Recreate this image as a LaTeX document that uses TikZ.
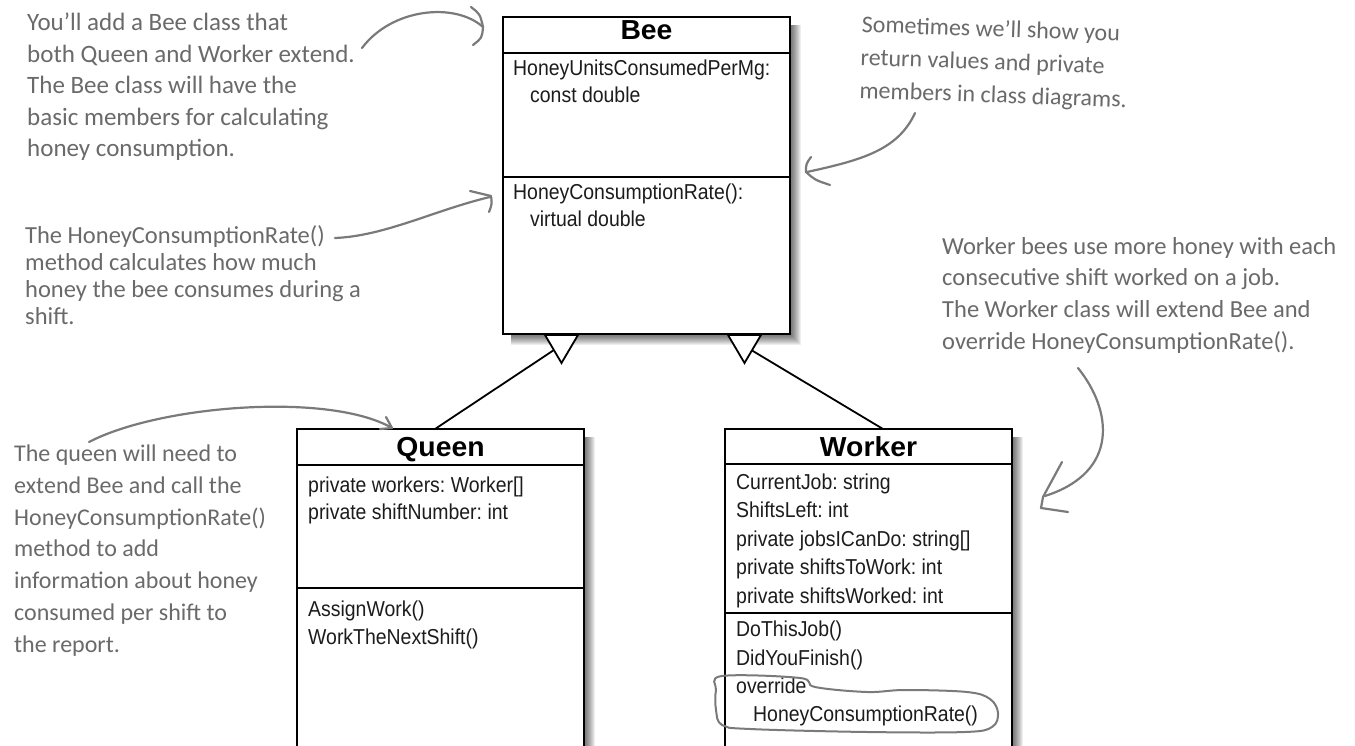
\documentclass[tikz,border=0pt]{standalone}
\usepackage{fontspec}
\newfontfamily\umlfont[FakeStretch=0.9]{Liberation Sans}
\newfontfamily\umltitlefont[FakeStretch=1.03]{Liberation Sans}
\newfontfamily\handfont{Carlito}
\definecolor{handgray}{HTML}{6A6A6A}
\definecolor{arrowgray}{HTML}{7A7A7A}
\definecolor{umltext}{HTML}{1C1C1C}
\frenchspacing
\begin{document}
\begin{tikzpicture}[x=1pt,y=-1pt,
  classbox/.style={draw=black, line width=1.4pt, fill=white, inner sep=0pt, outer sep=0pt},
  sepline/.style={draw=black, line width=1.4pt},
  member/.style={anchor=base west, inner sep=0pt, font=\umlfont\fontsize{21.6}{25}\selectfont, text=umltext},
  ctitle/.style={anchor=base, inner sep=0pt, font=\umltitlefont\bfseries\fontsize{27.5}{31}\selectfont, text=black},
  inherit/.style={draw=black, line width=1.8pt},
  hollowtri/.style={draw=black, line width=1.8pt, fill=white, line join=miter},
  note/.style={anchor=north west, inner sep=0pt, align=left, text=handgray},
  handline/.style={draw=arrowgray, line width=2.2pt, line cap=round, line join=round},
]
\useasboundingbox (0,0) rectangle (1355,746);
\clip (0,0) rectangle (1355,746);
\fill[white] (0,0) rectangle (1355,746);

% soft shadows
\foreach \k in {1,...,11} {
  \fill[black, opacity=0.065] (511,25) rectangle (790+\k,334+\k);
  \fill[black, opacity=0.065] (305,437) rectangle (584+\k,800);
  \fill[black, opacity=0.065] (733,437) rectangle (1012+\k,800);
}

% class boxes
\node[classbox, minimum width=287pt, minimum height=317pt] (bee) at (646.5,175.5) {};
\node[classbox, minimum width=287pt, minimum height=361pt] (queen) at (440.5,609.5) {};
\node[classbox, minimum width=287pt, minimum height=361pt] (worker) at (868.5,609.5) {};

\draw[sepline] (bee.west |- 0,53) -- (bee.east |- 0,53);
\draw[sepline] (bee.west |- 0,177) -- (bee.east |- 0,177);
\draw[sepline] (queen.west |- 0,465) -- (queen.east |- 0,465);
\draw[sepline] (queen.west |- 0,588) -- (queen.east |- 0,588);
\draw[sepline] (worker.west |- 0,464) -- (worker.east |- 0,464);
\draw[sepline] (worker.west |- 0,613) -- (worker.east |- 0,613);

% titles
\node[ctitle] (beeT) at (646.5,40) {Bee};
\node[ctitle] (queenT) at (440.5,456) {Queen};
\node[ctitle] (workerT) at (868.5,456) {Worker};

% Bee members
\node[member] (b1) at (513,76) {HoneyUnitsConsumedPerMg:};
\node[member] (b2) at (530,102.7) {const double};
\node[member] (b3) at (513,199.3) {HoneyConsumptionRate():};
\node[member] (b4) at (530,226.7) {virtual double};

% Queen members
\node[member] (q1) at (308,492.7) {private workers: Worker[]};
\node[member] (q2) at (308,519.5) {private shiftNumber: int};
\node[member] (q3) at (308,616.7) {AssignWork()};
\node[member] (q4) at (308,644) {WorkTheNextShift()};

% Worker members
\node[member] (w1) at (736,489) {CurrentJob: string};
\node[member] (w2) at (736,517.5) {ShiftsLeft: int};
\node[member] (w3) at (736,546) {private jobsICanDo: string[]};
\node[member] (w4) at (736,574.5) {private shiftsToWork: int};
\node[member] (w5) at (736,603) {private shiftsWorked: int};
\node[member] (w6) at (736,636.7) {DoThisJob()};
\node[member] (w7) at (736,665) {DidYouFinish()};
\node[member] (w8) at (736,693) {override};
\node[member] (w9) at (753,721.7) {HoneyConsumptionRate()};

% inheritance connectors
\coordinate (qtop) at (435,429);
\coordinate (wtop) at (883,429);
\coordinate (triQ) at (561.5,345);
\coordinate (triW) at (744.5,346);
\draw[inherit] (qtop) -- (triQ);
\draw[inherit] (wtop) -- (triW);
\draw[hollowtri] (545,335) -- (578,335) -- (561.5,363) -- cycle;
\draw[hollowtri] (728,335) -- (761,335) -- (744.5,363) -- cycle;

% handwritten notes
\node[note, font=\handfont\fontsize{25}{31.5}\selectfont] (n1) at (27,13)
  {You’ll add a Bee class that\\both Queen and Worker extend.\\The Bee class will have the\\basic members for calculating\\honey consumption.};
\node[note, font=\handfont\fontsize{24.5}{27}\selectfont] (n2) at (25,225)
  {The HoneyConsumptionRate()\\method calculates how much\\honey the bee consumes during a\\shift.};
\node[note, font=\handfont\fontsize{24}{33}\selectfont, rotate=-2] (n3) at (862,15)
  {Sometimes we’ll show you\\return values and private\\members in class diagrams.};
\node[note, font=\handfont\fontsize{24.5}{31.7}\selectfont] (n4) at (942,237)
  {Worker bees use more honey with each\\consecutive shift worked on a job.\\The Worker class will extend Bee and\\override HoneyConsumptionRate().};
\node[note, font=\handfont\fontsize{24}{31.7}\selectfont] (n5) at (14,445)
  {The queen will need to\\extend Bee and call the\\HoneyConsumptionRate()\\method to add\\information about honey\\consumed per shift to\\the report.};

% handwritten arrows
\coordinate (n1e) at (362,48);
\draw[handline] (n1e) .. controls (392,8) and (455,2) .. (483,27);
\draw[handline] (471,7) .. controls (480,14) .. (483,27) .. controls (482,38) .. (473,45);

\coordinate (n2e) at (335,238);
\draw[handline] (n2e) .. controls (385,236) and (435,210) .. (490,197);
\draw[handline] (470,191) -- (491,196) .. controls (492,204) .. (489,212);

\coordinate (n3s) at (915,113);
\draw[handline] (n3s) .. controls (898,150) and (862,160) .. (807,172);
\draw[handline] (811,157) .. controls (806,164) .. (806,172) .. controls (815,180) .. (830,185);

\coordinate (n4s) at (1078,368);
\draw[handline] (n4s) .. controls (1112,410) and (1120,472) .. (1045,496);
\draw[handline] (1062,462) -- (1043,497) -- (1041,508) -- (1068,512);

\coordinate (n5s) at (89,442);
\draw[handline] (n5s) .. controls (160,405) and (330,392) .. (392,428);
\draw[handline] (386,417) -- (392,428) -- (380,429);

% oval round the override
\draw[handline, line width=2pt] plot[smooth cycle, tension=0.6] coordinates {(722,676) (800,678) (815,687) (867,692) (905,690) (967,692) (990,699) (998,713) (992,727) (965,732) (867,732) (750,729) (722,725) (716,710) (716,690)};
\end{tikzpicture}
\end{document}
